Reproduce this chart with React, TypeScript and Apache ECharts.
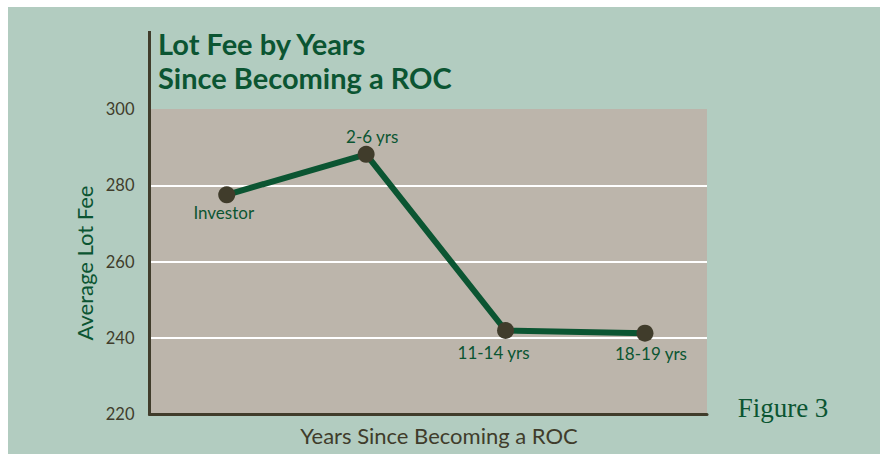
import React, { useEffect, useRef } from "react";
import * as echarts from "echarts";

const categories = ["Investor", "2-6 yrs", "11-14 yrs", "18-19 yrs"];
const avgLotFee = [277.5, 288.1, 241.9, 241.2];
const yTicks = [220, 240, 260, 280, 300];

const titleText = "Lot Fee by Years\nSince Becoming a ROC";
const yAxisName = "Average Lot Fee";
const xAxisName = "Years Since Becoming a ROC";
const figureText = "Figure 3";

const GREEN = "#0b5532";
const DARK = "#403c2b";
const BG = "#b2ccc0";
const PLOT = "#bcb5ab";
const FONT = "Lato, 'Open Sans', sans-serif";

// label placement styling per point (not data)
const labelStyles = [
  { position: "bottom", distance: 1, offset: [-3, 0] },
  { position: "top", distance: 1, offset: [6, 0] },
  { position: "bottom", distance: 5, offset: [-12, 0] },
  { position: "bottom", distance: 3, offset: [6, 0] },
];

export default function App() {
  const ref = useRef<HTMLDivElement>(null);
  useEffect(() => {
    if (!ref.current) return;
    const chart = echarts.init(ref.current, undefined, { renderer: "svg" });
    const gridLeft = 141.5;
    const gridRight = 173;
    const gridTop = 102;
    const gridBottom = 40;
    const H = 447;
    chart.setOption({
      animation: false,
      backgroundColor: BG,
      title: {
        text: titleText,
        left: 150,
        top: 19,
        padding: 0,
        textStyle: {
          fontFamily: FONT,
          fontWeight: "bold",
          fontSize: 29,
          lineHeight: 34,
          color: GREEN,
        },
      },
      grid: {
        left: gridLeft,
        right: gridRight,
        top: gridTop,
        bottom: gridBottom,
        show: true,
        backgroundColor: PLOT,
        borderWidth: 0,
      },
      xAxis: {
        type: "value",
        min: 0.446,
        max: 4.445,
        axisLine: { show: true, onZero: false, lineStyle: { color: DARK, width: 3 } },
        axisTick: { show: false },
        axisLabel: { show: false },
        splitLine: { show: false },
      },
      yAxis: {
        type: "value",
        min: yTicks[0],
        max: yTicks[yTicks.length - 1],
        interval: yTicks[1] - yTicks[0],
        axisLine: { show: false },
        axisTick: { show: false },
        axisLabel: {
          color: DARK,
          fontFamily: FONT,
          fontSize: 16.5,
          margin: 15,
        },
        splitLine: {
          show: true,
          lineStyle: {
            color: ["rgba(0,0,0,0)", "#ffffff", "#ffffff", "#ffffff", "rgba(0,0,0,0)"],
            width: 2,
          },
        },
      },
      series: [
        {
          type: "line",
          data: avgLotFee.map((v, i) => ({
            value: [i + 1, v],
            label: labelStyles[i],
          })),
          lineStyle: { color: GREEN, width: 6 },
          symbol: "circle",
          symbolSize: 17,
          itemStyle: { color: DARK },
          label: {
            show: true,
            color: GREEN,
            fontFamily: FONT,
            fontSize: 17,
            formatter: (p: any) => categories[p.dataIndex],
          },
          z: 5,
        },
      ],
      graphic: [
        {
          type: "line",
          shape: { x1: gridLeft, y1: 24, x2: gridLeft, y2: H - gridBottom + 1.5 },
          style: { stroke: DARK, lineWidth: 3 },
          z: 10,
        },
        {
          type: "text",
          x: 76,
          y: 256,
          rotation: Math.PI / 2,
          style: {
            text: yAxisName,
            fill: GREEN,
            font: `22px ${FONT}`,
            textAlign: "center",
            textVerticalAlign: "middle",
          },
        },
        {
          type: "text",
          x: 431,
          y: 428,
          style: {
            text: xAxisName,
            fill: DARK,
            font: `22px ${FONT}`,
            textAlign: "center",
            textVerticalAlign: "middle",
          },
        },
        {
          type: "text",
          x: 775,
          y: 401,
          style: {
            text: figureText,
            fill: GREEN,
            font: `27px 'Liberation Serif', serif`,
            textAlign: "center",
            textVerticalAlign: "middle",
          },
        },
      ],
    });
    return () => chart.dispose();
  }, []);
  return (
    <div
      ref={ref}
      style={{ position: "fixed", left: 8, top: 7, width: 872, height: 447 }}
    />
  );
}
